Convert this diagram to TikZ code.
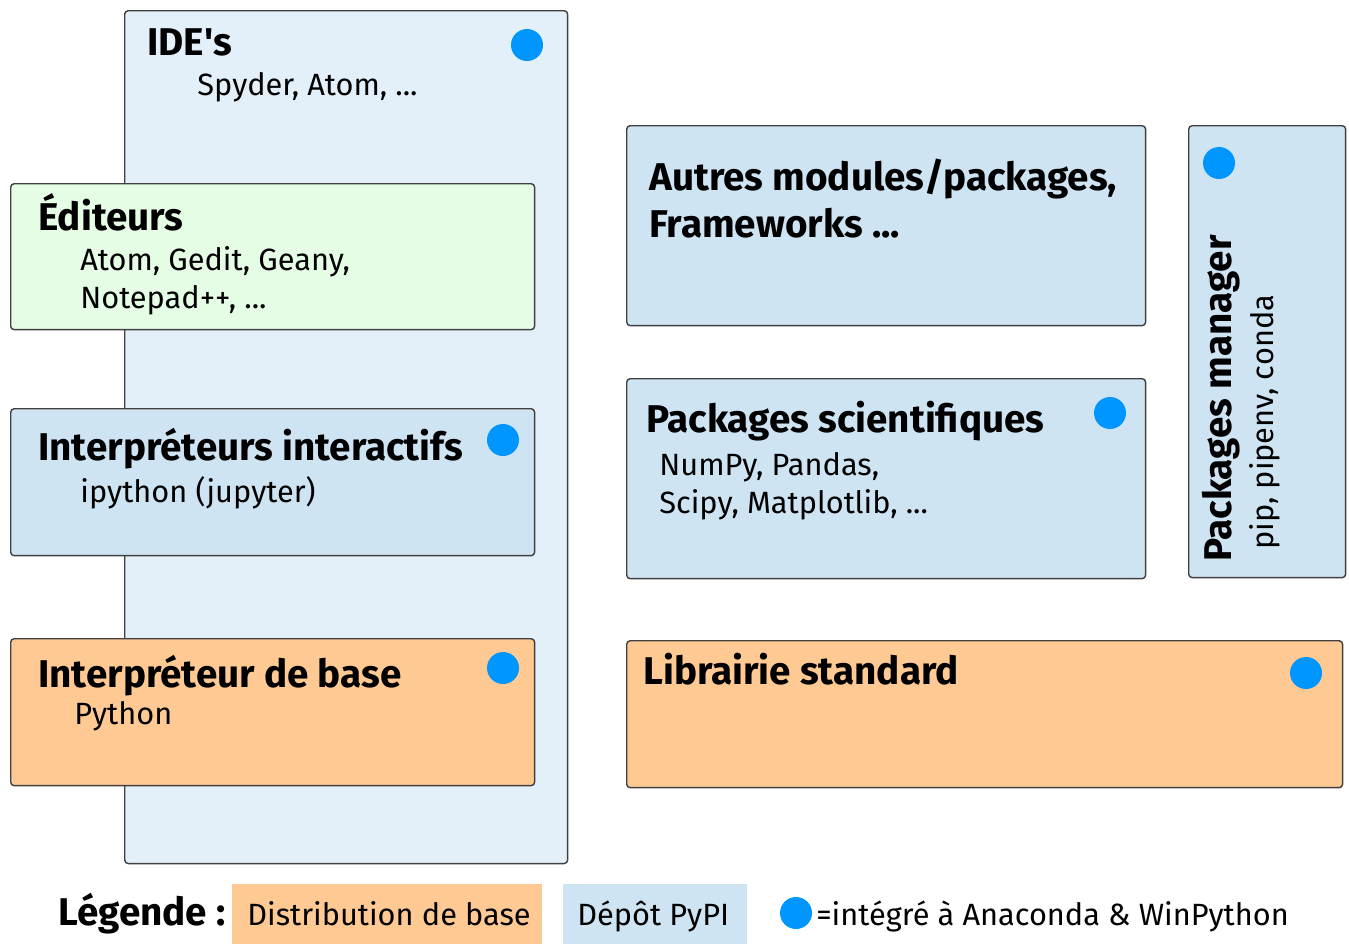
\documentclass[tikz,border=0pt]{standalone}
\usepackage{fontspec}
\setmainfont{Fira Sans}
\usetikzlibrary{positioning}

\definecolor{bord}{HTML}{404040}
\definecolor{bleuide}{HTML}{E3F0FA}
\definecolor{bleupypi}{HTML}{CFE4F3}
\definecolor{orangebase}{HTML}{FFC994}
\definecolor{vertedit}{HTML}{E6FDE5}
\definecolor{bleupoint}{HTML}{0096FF}

\tikzset{
	bloc/.style={draw=bord, line width=0.8pt, rounded corners=2pt, inner sep=0pt, anchor=north west},
	titre/.style={anchor=base west, inner sep=0pt, font=\fontsize{22}{26}\selectfont\bfseries},
	sous/.style={anchor=base west, inner sep=0pt, font=\fontsize{17.5}{21}\selectfont},
	pastille/.style={circle, fill=bleupoint, minimum size=0.64cm, inner sep=0pt},
}

\begin{document}
\begin{tikzpicture}[x=0.02cm,y=-0.02cm]
	
	\useasboundingbox (0,0) rectangle (1349,944);
	
	% colonne de gauche
	\node[bloc, fill=bleuide, minimum width=8.86cm, minimum height=17.06cm] (ide) at (124,10) {};
	\node[bloc, fill=vertedit, minimum width=10.48cm, minimum height=2.92cm] (edit) at (10,183) {};
	\node[bloc, fill=bleupypi, minimum width=10.48cm, minimum height=2.94cm] (inter) at (10,408) {};
	\node[bloc, fill=orangebase, minimum width=10.48cm, minimum height=2.94cm] (base) at (10,638) {};
	
	% colonne de droite
	\node[bloc, fill=bleupypi, minimum width=10.38cm, minimum height=4.00cm] (autres) at (626,125) {};
	\node[bloc, fill=bleupypi, minimum width=10.38cm, minimum height=4.00cm] (scient) at (626,378) {};
	\node[bloc, fill=bleupypi, minimum width=3.14cm, minimum height=9.04cm] (gest) at (1188,125) {};
	\node[bloc, fill=orangebase, minimum width=14.32cm, minimum height=2.94cm] (libstd) at (626,640) {};
	
	% textes
	\node[titre] (tide) at (147,55) {IDE\textquotesingle s};
	\node[sous] (side) at (197,95) {Spyder, Atom, ...};
	\node[titre] (tedit) at (38,230) {Éditeurs};
	\node[sous] (sedit) at (80,270) {Atom, Gedit, Geany,};
	\node[sous] (sedit2) at (80,308) {Notepad++, ...};
	\node[titre] (tinter) at (38,460) {Interpréteurs interactifs};
	\node[sous] (sinter) at (80,502) {ipython (jupyter)};
	\node[titre] (tbase) at (38,687) {Interpréteur de base};
	\node[sous] (sbase) at (74,724) {Python};
	\node[titre] (tautres) at (649,190) {Autres modules/packages,};
	\node[titre] (tautres2) at (649,237) {Frameworks ...};
	\node[titre] (tscient) at (646,432) {Packages scientifiques};
	\node[sous] (sscient) at (659,475) {NumPy, Pandas,};
	\node[sous] (sscient2) at (659,513) {Scipy, Matplotlib, ...};
	\node[titre] (tlibstd) at (643,684) {Librairie standard};
	\node[titre, rotate=90] (tgest) at (1231,562) {Packages manager};
	\node[sous, rotate=90] (sgest) at (1273,550) {pip, pipenv, conda};
	
	% pastilles Anaconda
	\node[pastille] (pide) at (527,45) {};
	\node[pastille] (pinter) at (503,440) {};
	\node[pastille] (pbase) at (503,668) {};
	\node[pastille] (pscient) at (1110,413) {};
	\node[pastille] (pgest) at (1219,163) {};
	\node[pastille] (plibstd) at (1306,673) {};
	
	% legende
	\node[titre] (leg) at (58,925) {Légende :};
	\node[anchor=north west, fill=orangebase, minimum width=6.2cm, minimum height=1.2cm, inner sep=0pt] (legbase) at (232,884) {};
	\node[anchor=north west, fill=bleupypi, minimum width=3.68cm, minimum height=1.2cm, inner sep=0pt] (legpypi) at (563,884) {};
	\node[sous] (tlegbase) at (247,925) {Distribution de base};
	\node[sous] (tlegpypi) at (577,925) {Dépôt PyPI};
	\node[pastille] (plegende) at (796,913) {};
	\node[sous] (tlegpoint) at (816,925) {=intégré à Anaconda \& WinPython};
	
\end{tikzpicture}
\end{document}
